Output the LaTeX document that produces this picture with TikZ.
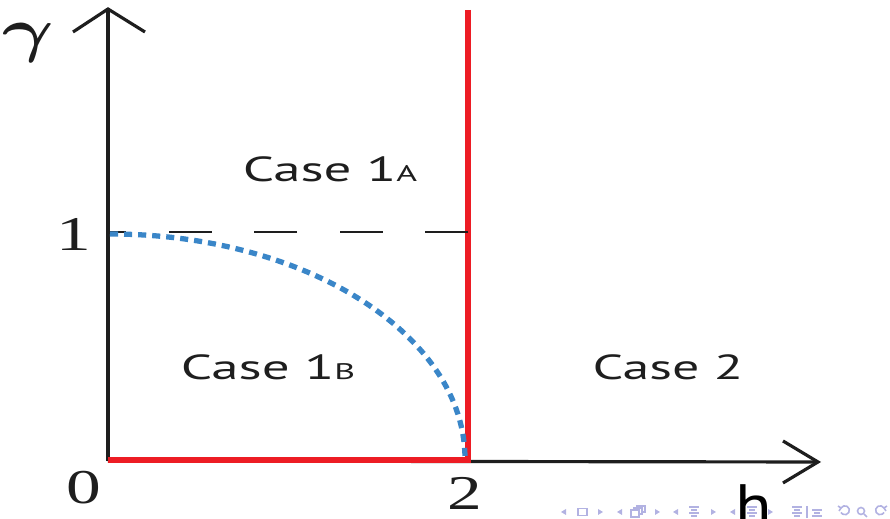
\documentclass[tikz,border=0pt]{standalone}
\usepackage{amsmath}
\usepackage{graphicx}
\usepackage{fontspec}
\setmainfont{Liberation Serif}
\newfontfamily\casefont{PT Sans}
\definecolor{myred}{RGB}{237,28,36}
\definecolor{myblue}{RGB}{58,134,200}
\definecolor{navcol}{RGB}{178,178,226}
\definecolor{axcol}{RGB}{30,30,30}
\tikzset{
  axisline/.style={line width=0.9pt, draw=axcol},
  barb/.style={line width=0.9pt, draw=axcol, line cap=butt},
  redline/.style={line width=1.9pt, draw=myred},
  dashline/.style={line width=0.8pt, draw=axcol, dash pattern=on 12.2pt off 12.1pt},
  bluedot/.style={line width=1.5pt, draw=myblue, dash pattern=on 2.3pt off 1.7pt},
  casetext/.style={font=\casefont\fontsize{9.9}{12}\selectfont, text=axcol, inner sep=0pt, anchor=base},
  numtext/.style={font=\fontsize{13.8}{16}\selectfont, text=axcol, inner sep=0pt},
  navfill/.style={fill=navcol, draw=none},
  navdraw/.style={draw=navcol, line width=0.45pt},
}
\newcommand{\smallcap}[1]{{\fontsize{6.4}{8}\selectfont #1}}
\newcommand{\wide}[2]{\scalebox{#1}[1]{#2}}
\begin{document}
\begin{tikzpicture}[x=0.01cm,y=-0.01cm]
\useasboundingbox (0,0) rectangle (890,519);
% coordinates
\coordinate (O) at (108,461);
\coordinate (ytip) at (108,9);
\coordinate (ya1) at (73,32);
\coordinate (ya2) at (145,32);
\coordinate (xtip) at (818,462);
\coordinate (xa1) at (783,441);
\coordinate (xa2) at (783,483);
\coordinate (rtop) at (468,10);
\coordinate (rbot) at (468,461);
\coordinate (hstart) at (108,460);
\coordinate (d1) at (108,232);
\coordinate (d2) at (468,232);
\coordinate (c0) at (110,234);
\coordinate (c1) at (465,459);
% navigation symbols (beamer)
\begin{scope}
\fill[navfill] (566,509) -- (561,512) -- (566,515) -- cycle;
\draw[navdraw] (578,508.5) rectangle (587,515.5);
\fill[navfill] (598,509) -- (603,512) -- (598,515) -- cycle;
\fill[navfill] (622,509) -- (617,512) -- (622,515) -- cycle;
\draw[navdraw,fill=white] (637,506) rectangle (645,512);
\draw[navdraw,fill=white] (634,508) rectangle (642,514);
\draw[navdraw,fill=white] (631,510) rectangle (639,517);
\fill[navfill] (655,509) -- (660,512) -- (655,515) -- cycle;
\fill[navfill] (678,509) -- (673,512) -- (678,515) -- cycle;
\foreach \yy/\xa/\xb in {507/689/699,510/691/697,513/689/699,516/691/697}{\draw[navdraw] (\xa,\yy) -- (\xb,\yy);}
\fill[navfill] (711,509) -- (716,512) -- (711,515) -- cycle;
\fill[navfill] (735,509) -- (730,512) -- (735,515) -- cycle;
\foreach \yy/\xa/\xb in {507/747/757,510/749/755,513/747/757,516/749/755}{\draw[navdraw] (\xa,\yy) -- (\xb,\yy);}
\fill[navfill] (768,509) -- (773,512) -- (768,515) -- cycle;
\foreach \yy/\xa/\xb in {507/792/802,510/794/800,513/792/802,516/794/800}{\draw[navdraw] (\xa,\yy) -- (\xb,\yy);}
\draw[navdraw] (807,506) -- (807,518);
\foreach \yy/\xa/\xb in {510/812/822,513/814/820,516/812/822}{\draw[navdraw] (\xa,\yy) -- (\xb,\yy);}
\draw[navdraw] (841,508) arc[start angle=150, end angle=-150, radius=0.045cm];
\draw[navdraw] (838,506) -- (841,508) -- (839,511);
\draw[navdraw] (861,511) circle[radius=0.035cm];
\draw[navdraw] (864,514) -- (867,517);
\draw[navdraw] (884,508) arc[start angle=30, end angle=330, radius=0.045cm];
\draw[navdraw] (887,506) -- (884,508) -- (886,511);
\end{scope}
% axes
\draw[axisline] (O) -- (ytip);
\draw[barb] (ya1) -- (ytip) -- (ya2);
\draw[axisline] (O) -- (xtip);
\draw[barb] (xa1) -- (xtip) -- (xa2);
% red lines
\draw[redline] (rtop) -- (rbot);
\draw[redline] (hstart) -- ([xshift=0.03cm]rbot |- hstart);
% dashed gamma = 1
\draw[dashline] (d2) -- (d1);
% dotted quarter ellipse
\draw[bluedot] (c0) .. controls (306,234) and (465,335) .. (c1);
% labels
\node[font=\fontsize{16}{20}\selectfont, text=axcol, inner sep=0pt] (gam) at (28,43) {\wide{1.3}{$\boldsymbol{\gamma}$}};
\node[numtext] (one) at (74,234) {\wide{1.43}{1}};
\node[numtext] (zero) at (84,488) {\wide{1.43}{0}};
\node[numtext] (two) at (465,493) {\wide{1.43}{2}};
\node[font=\casefont\fontsize{17}{20}\selectfont, text=black, inner sep=0pt, anchor=base] (hlab) at (754,527) {\wide{1.12}{h}};
\node[casetext] (c1a) at (330,182) {\wide{1.58}{Case 1\smallcap{A}}};
\node[casetext] (c1b) at (268,380) {\wide{1.58}{Case 1\smallcap{B}}};
\node[casetext] (c2) at (668,380) {\wide{1.55}{Case 2}};
\end{tikzpicture}
\end{document}
